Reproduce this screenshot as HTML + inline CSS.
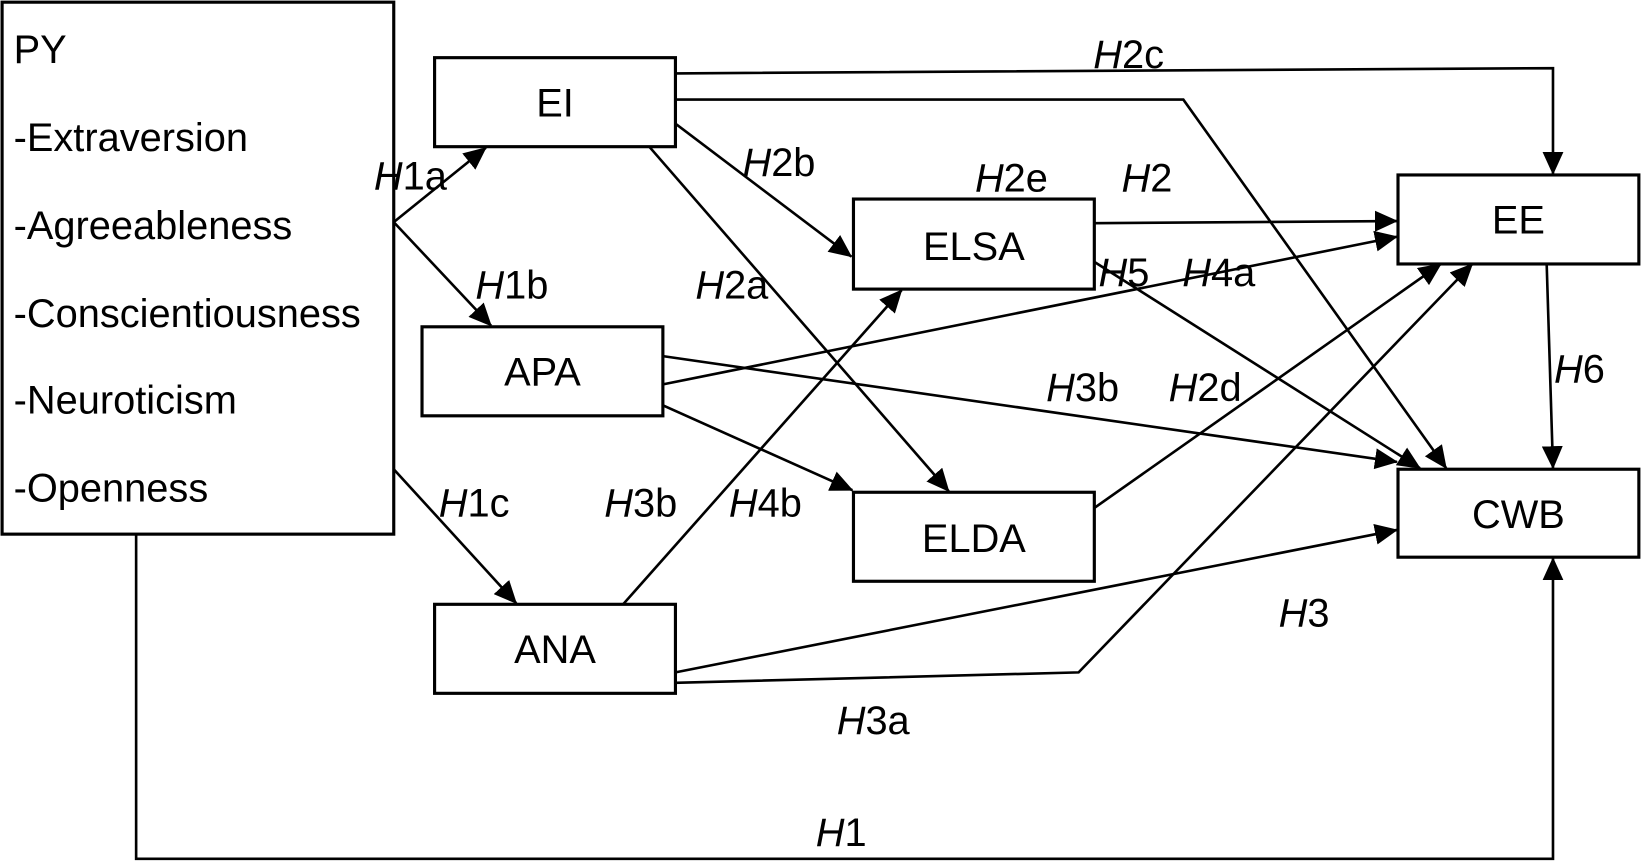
<!DOCTYPE html>
<html><head><meta charset="utf-8"><style>
html,body{margin:0;padding:0;background:#fff;}
svg{display:block;}
text{font-family:"Liberation Sans",sans-serif;font-size:38px;fill:#000;}
</style></head><body>
<svg width="1642" height="862" viewBox="0 0 1568 823" xmlns="http://www.w3.org/2000/svg">
<defs>
<marker id="b" markerWidth="22" markerHeight="20" refX="21" refY="10" orient="auto" markerUnits="userSpaceOnUse"><path d="M0,0 L22,10 L0,20 z" fill="#000"/></marker></defs>
<g fill="none" stroke="#000" stroke-width="3">
<rect x="2" y="2" width="374" height="508"/>
<rect x="415" y="55" width="230" height="85"/>
<rect x="403" y="312" width="230" height="85"/>
<rect x="415" y="577" width="230" height="85"/>
<rect x="815" y="190" width="230" height="86"/>
<rect x="815" y="470" width="230" height="85"/>
<rect x="1335" y="167" width="230" height="85"/>
<rect x="1335" y="448" width="230" height="84"/>
</g>
<g fill="none" stroke="#000" stroke-width="2.5" marker-end="url(#b)">
<path d="M376,212 L464,141"/>
<path d="M376,212 L469,311"/>
<path d="M376,448 L493,576"/>
<path d="M130,510 L130,820 L1483,820 L1483,533"/>
<path d="M645,70 L1483,65 L1483,166"/>
<path d="M645,95 L1130,95 L1381,447"/>
<path d="M645,118 L813,245"/>
<path d="M620,140 L906,469"/>
<path d="M1045,213 L1334,211"/>
<path d="M1045,250 L1356,447"/>
<path d="M633,367 L1334,226"/>
<path d="M633,340 L1334,441"/>
<path d="M633,387 L814,468"/>
<path d="M595,577 L861,277"/>
<path d="M1045,485 L1376,252"/>
<path d="M645,642 L1334,506"/>
<path d="M645,652 L1030,642 L1406,252"/>
<path d="M1477,253 L1483,447"/>
</g>
<text x="13" y="60">PY</text>
<text x="13" y="144">-Extraversion</text>
<text x="13" y="228">-Agreeableness</text>
<text x="13" y="312">-Conscientiousness</text>
<text x="13" y="395">-Neuroticism</text>
<text x="13" y="479">-Openness</text>
<g text-anchor="middle">
<text x="530" y="111">EI</text>
<text x="518" y="368">APA</text>
<text x="530" y="633">ANA</text>
<text x="930" y="248">ELSA</text>
<text x="930" y="527">ELDA</text>
<text x="1450" y="223">EE</text>
<text x="1450" y="504">CWB</text>
</g>
<g>
<text x="357" y="181"><tspan font-style="italic">H</tspan>1a</text>
<text x="454" y="285"><tspan font-style="italic">H</tspan>1b</text>
<text x="419" y="493"><tspan font-style="italic">H</tspan>1c</text>
<text x="779" y="808"><tspan font-style="italic">H</tspan>1</text>
<text x="1044" y="65"><tspan font-style="italic">H</tspan>2c</text>
<text x="709" y="168"><tspan font-style="italic">H</tspan>2b</text>
<text x="664" y="285"><tspan font-style="italic">H</tspan>2a</text>
<text x="931" y="183"><tspan font-style="italic">H</tspan>2e</text>
<text x="1071" y="183"><tspan font-style="italic">H</tspan>2</text>
<text x="1049" y="273"><tspan font-style="italic">H</tspan>5</text>
<text x="1129" y="273"><tspan font-style="italic">H</tspan>4a</text>
<text x="999" y="383"><tspan font-style="italic">H</tspan>3b</text>
<text x="1116" y="383"><tspan font-style="italic">H</tspan>2d</text>
<text x="1484" y="365"><tspan font-style="italic">H</tspan>6</text>
<text x="577" y="493"><tspan font-style="italic">H</tspan>3b</text>
<text x="696" y="493"><tspan font-style="italic">H</tspan>4b</text>
<text x="1221" y="598"><tspan font-style="italic">H</tspan>3</text>
<text x="799" y="701"><tspan font-style="italic">H</tspan>3a</text>
</g>
</svg>
</body></html>
